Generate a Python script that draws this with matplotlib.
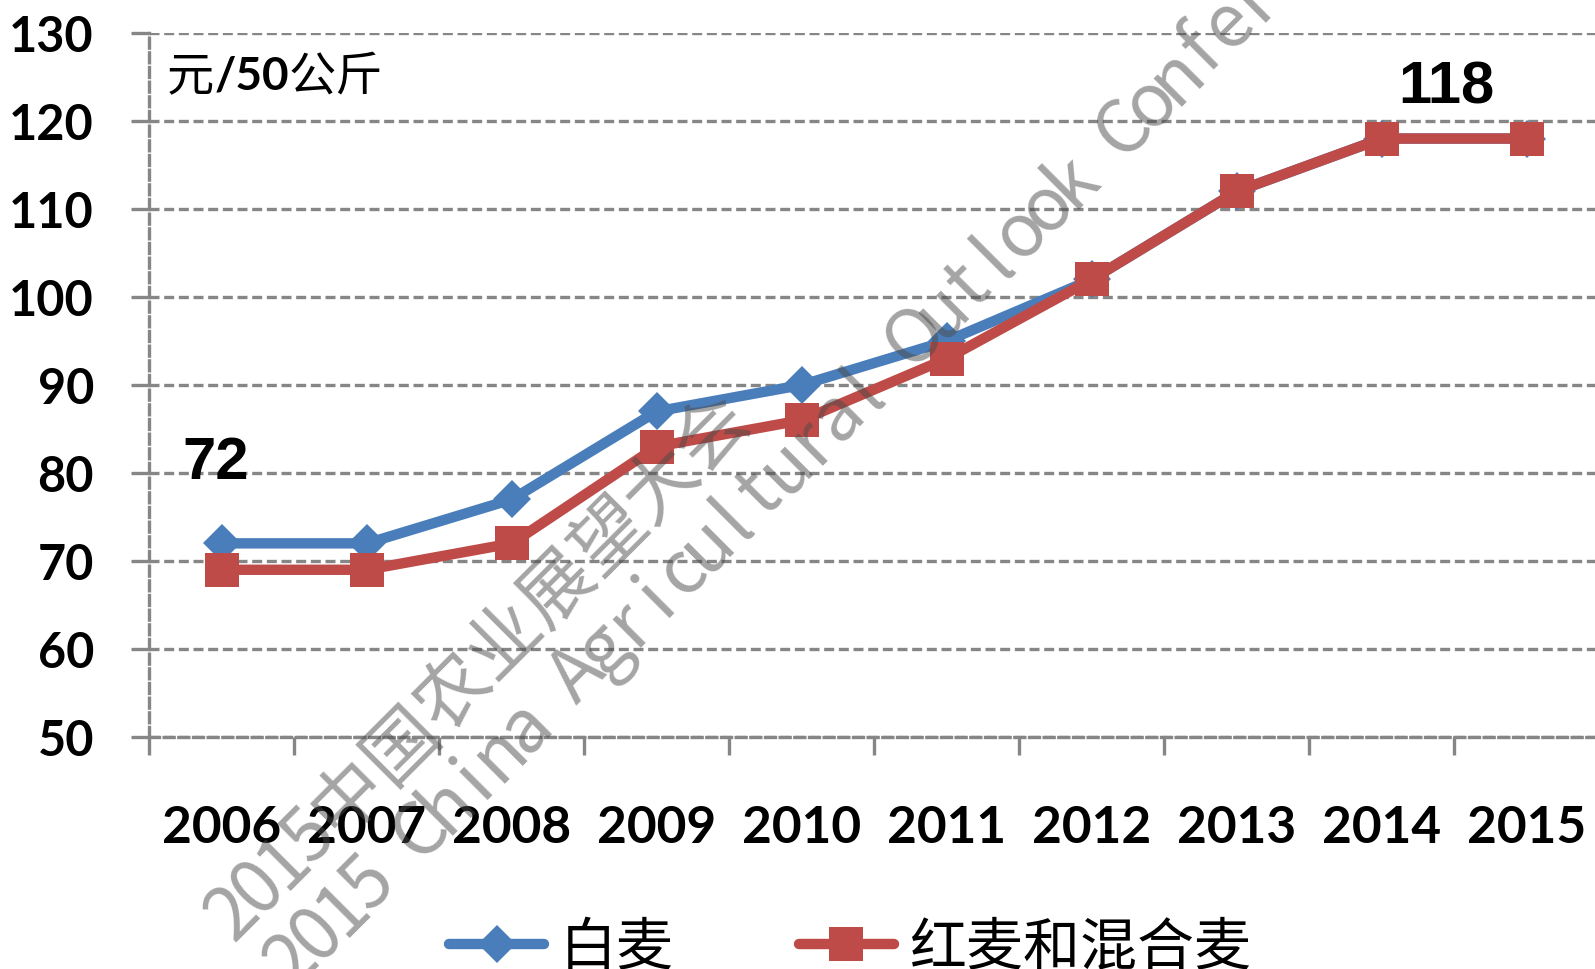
import matplotlib
matplotlib.use("Agg")
import matplotlib.pyplot as plt
from matplotlib.lines import Line2D

years = ["2006", "2007", "2008", "2009", "2010", "2011", "2012", "2013", "2014", "2015"]
white_wheat = [72, 72, 77, 87, 90, 95, 102, 112, 118, 118]
red_mixed_wheat = [69, 69, 72, 83, 86, 93, 102, 112, 118, 118]
y_ticks = [50, 60, 70, 80, 90, 100, 110, 120, 130]
series_names = ["白麦", "红麦和混合麦"]
unit_parts = ["元", "/50", "公斤"]
watermark_cn = "2015中国农业展望大会"
watermark_en = "2015 China Agricultural Outlook Conference"

blue = "#4a7ebb"
red = "#be4b48"
grid_gray = "#868686"
dash = (0, (3, 1.4))
cjk = ["Noto Sans CJK SC", "DejaVu Sans"]

W, H = 1595, 970
fig = plt.figure(figsize=(W / 100, H / 100), dpi=100)
ax = fig.add_axes([0.0937, 0.2392, 0.909, 0.7258])

x = list(range(len(years)))
ax.plot(x, white_wheat, color=blue, lw=7.5, marker="D", ms=19,
        markeredgewidth=0, zorder=3, solid_capstyle="round")
ax.plot(x, red_mixed_wheat, color=red, lw=7.5, marker="s", ms=24,
        markeredgewidth=0, zorder=4, solid_capstyle="round")

ax.set_xlim(-0.5, len(years) - 0.5)
ax.set_ylim(y_ticks[0], y_ticks[-1])
ax.set_yticks(y_ticks)
ax.set_yticklabels([str(v) for v in y_ticks], fontfamily="Lato",
                   fontweight="bold", fontsize=35)
ax.set_xticks(x)
ax.set_xticklabels(years, fontfamily="Lato", fontweight="bold", fontsize=37)
ax.set_xticks([i - 0.5 for i in range(len(years) + 1)], minor=True)

ax.tick_params(axis="y", length=13, width=2.4, color=grid_gray, pad=27)
ax.tick_params(axis="x", which="major", length=0, pad=48)
ax.tick_params(axis="x", which="minor", length=13, width=2.4, color=grid_gray)

ax.grid(axis="y", color=grid_gray, lw=2.4, linestyle=dash, zorder=1)
for s in ["top", "right"]:
    ax.spines[s].set_visible(False)
for s in ["left", "bottom"]:
    ax.spines[s].set_color(grid_gray)
    ax.spines[s].set_linewidth(2.4)
    ax.spines[s].set_linestyle(dash)
ax.set_axisbelow(True)

# value labels
ax.annotate(str(white_wheat[0]), xy=(x[0], white_wheat[0]), xytext=(-6, 81),
            textcoords="offset pixels", ha="center", va="center",
            fontsize=43, fontweight="bold", family="Liberation Sans")
ax.annotate(str(red_mixed_wheat[-2]), xy=(x[-2], red_mixed_wheat[-2]),
            xytext=(65, 52), textcoords="offset pixels", ha="center",
            va="center", fontsize=43, fontweight="bold", family="Liberation Sans")

# unit label: 元 /50 公斤
t1 = fig.text(167 / W, 1 - 77 / H, unit_parts[0], fontsize=34,
              family=cjk, va="center", ha="left")
t2 = ax.annotate(unit_parts[1], xy=(1, 0.5), xycoords=t1, va="center",
                 ha="left", fontsize=33, fontweight="bold", family="Lato")
ax.annotate(unit_parts[2], xy=(1, 0.5), xycoords=t2, va="center", ha="left",
            fontsize=34, family=cjk)

# legend
handles = [
    Line2D([], [], color=blue, lw=7.5, marker="D", ms=19, markeredgewidth=0,
           solid_capstyle="round"),
    Line2D([], [], color=red, lw=7.5, marker="s", ms=24, markeredgewidth=0,
           solid_capstyle="round"),
]
fig.legend(handles, series_names, loc="center", bbox_to_anchor=(0.533, 0.022),
           ncol=2, frameon=False, prop={"family": cjk, "size": 41},
           handlelength=1.67, handletextpad=0.27, columnspacing=2.2)


# watermark: half-width latin, full-width CJK, laid out along a 45 degree line
def watermark(text, x0, y0, size=53):
    em = size * 100 / 72
    d = 0.7071
    cum = 0.0
    for ch in text:
        adv = 0.5 if ord(ch) < 128 else 1.0
        c = cum + adv / 2
        px = x0 + c * em * d
        py = y0 - c * em * d
        if ch != " ":
            fig.text(px / W, 1 - py / H, ch, rotation=45, rotation_mode="anchor",
                     ha="center", va="baseline", fontsize=size, family=cjk,
                     color="#4a4a4a", alpha=0.5, zorder=10)
        cum += adv


watermark(watermark_cn, 234, 942)
watermark(watermark_en, 293, 989)

fig.savefig("out.png", dpi=100)
